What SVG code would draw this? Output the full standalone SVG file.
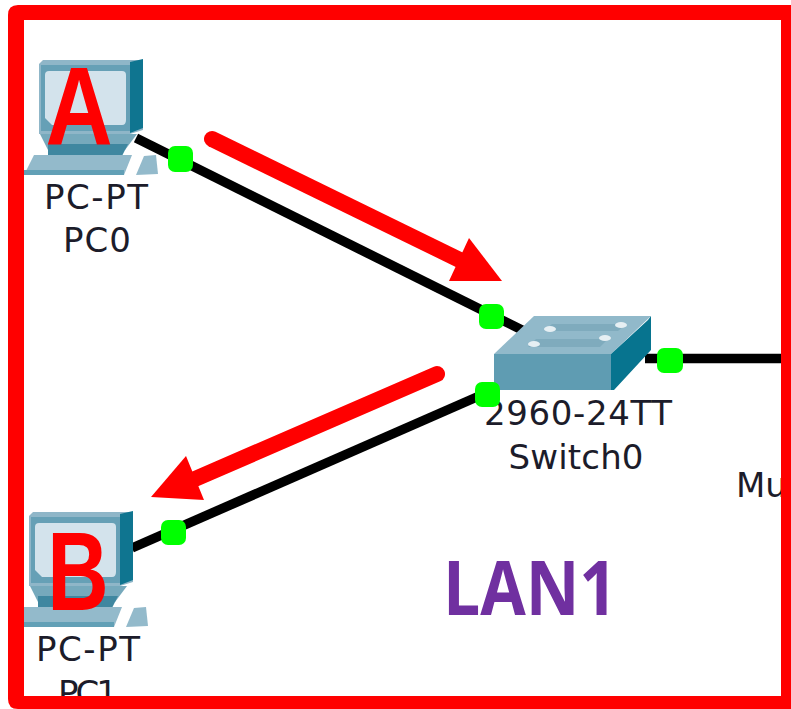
<svg xmlns="http://www.w3.org/2000/svg" width="791" height="709" viewBox="0 0 791 709">
<style>
.lbl{font-family:"DejaVu Sans",sans-serif;font-size:34px;fill:#1c1c2a;text-anchor:middle}
.big{font-family:"Liberation Sans",sans-serif;font-weight:700;fill:#ff0000;font-size:112px;text-anchor:middle}
.link{stroke:#000;stroke-width:9.500;fill:none}
.port{fill:#00ff00}
.arrow{stroke:#ff0000;stroke-width:16;stroke-linecap:round;fill:none}
.head{fill:#ff0000}
</style>
<defs>
<g id="pc">
<path d="M43 60H143V130L130 134H39V64Z" fill="#8fb6c8"/>
<path d="M130 62L143 59V128L130 133Z" fill="#0f7590"/>
<path d="M41 65H130V131H41Z" fill="#66a0b6"/>
<path d="M45 75Q45 71 49 71H122Q126 71 126 75V120Q126 125 122 125H52L45 118Z" fill="#d3e3ec"/>
<path d="M40 134H137L125 150H48Z" fill="#76a9bc"/>
<path d="M48 144H128L122 156H48Z" fill="#3f87a0"/>
<path d="M34 155H132L124 175H24Z" fill="#93bacb"/>
<path d="M24 170H124V175H24Z" fill="#62a0b6"/>
<path d="M144 156L156 155L158 174L136 175Z" fill="#93bacb"/>
</g>
</defs>
<rect width="791" height="709" fill="#fff"/>
<g id="connectors">
<path class="link" d="M136 138L524 331"/>
<path class="link" d="M132 548L486 393"/>
<path class="link" d="M645 358.500H781"/>
</g>
<g id="pc0">
<use href="#pc"/>
<text class="lbl" x="96" y="209" textLength="104">PC-PT</text>
<text class="lbl" x="97" y="252" textLength="68">PC0</text>
</g>
<g id="pc1">
<use href="#pc" x="-10" y="452"/>
<text class="lbl" x="88" y="661" textLength="104">PC-PT</text>
<text class="lbl" x="88" y="705" textLength="60">PC1</text>
</g>
<g id="switch0">
<path d="M534 316H651L611 354H494Z" fill="#91b9ca"/>
<path d="M611 354L648 320L651 316V350L614 390H611Z" fill="#07748f"/>
<path d="M494 354H611V390H494Z" fill="#5f9cb2"/>
<g fill="#7fabbd"><path d="M552 324H626L618 331H544Z"/><path d="M536 339H608L600 347H528Z"/></g>
<g fill="#e6eff3"><ellipse cx="550" cy="329" rx="6" ry="3"/><ellipse cx="621" cy="325" rx="6" ry="3"/><ellipse cx="534" cy="344" rx="6" ry="3"/><ellipse cx="605" cy="338" rx="6" ry="3"/></g>
<text class="lbl" x="578" y="425" textLength="188">2960-24TT</text>
<text class="lbl" x="576" y="469" textLength="135">Switch0</text>
</g>
<g id="multilayer">
<text class="lbl" x="736" y="497" style="text-anchor:start">Mu</text>
</g>
<g id="ports">
<rect class="port" x="168" y="146" width="25" height="26" rx="7"/>
<rect class="port" x="479" y="304" width="25" height="25" rx="7"/>
<rect class="port" x="475" y="382" width="25" height="25" rx="7"/>
<rect class="port" x="657" y="348" width="26" height="25" rx="7"/>
<rect class="port" x="161" y="520" width="25" height="25" rx="7"/>
</g>
<g id="annotations">
<path class="arrow" d="M212 139L470 265"/>
<path class="head" d="M502 281L449 281L469 238Z"/>
<path class="arrow" d="M437 374L188 482"/>
<path class="head" d="M151 497L204 500L186 456Z"/>
<text class="big" transform="translate(79 145) scale(.83 1)">A</text>
<text class="big" transform="translate(78 610) scale(.76 1)">B</text>
<text transform="translate(530 615) scale(.88 1)" style="font-family:'Open Sans','Liberation Sans',sans-serif;font-weight:700;font-size:75px;fill:#7030a0;text-anchor:middle">LAN1</text>
</g>
<path id="frame" fill-rule="evenodd" fill="#ff0000" d="M18 5H791V709H18Q8 709 8 699V15Q8 5 18 5ZM24 20V696H781V20Z"/>
</svg>
